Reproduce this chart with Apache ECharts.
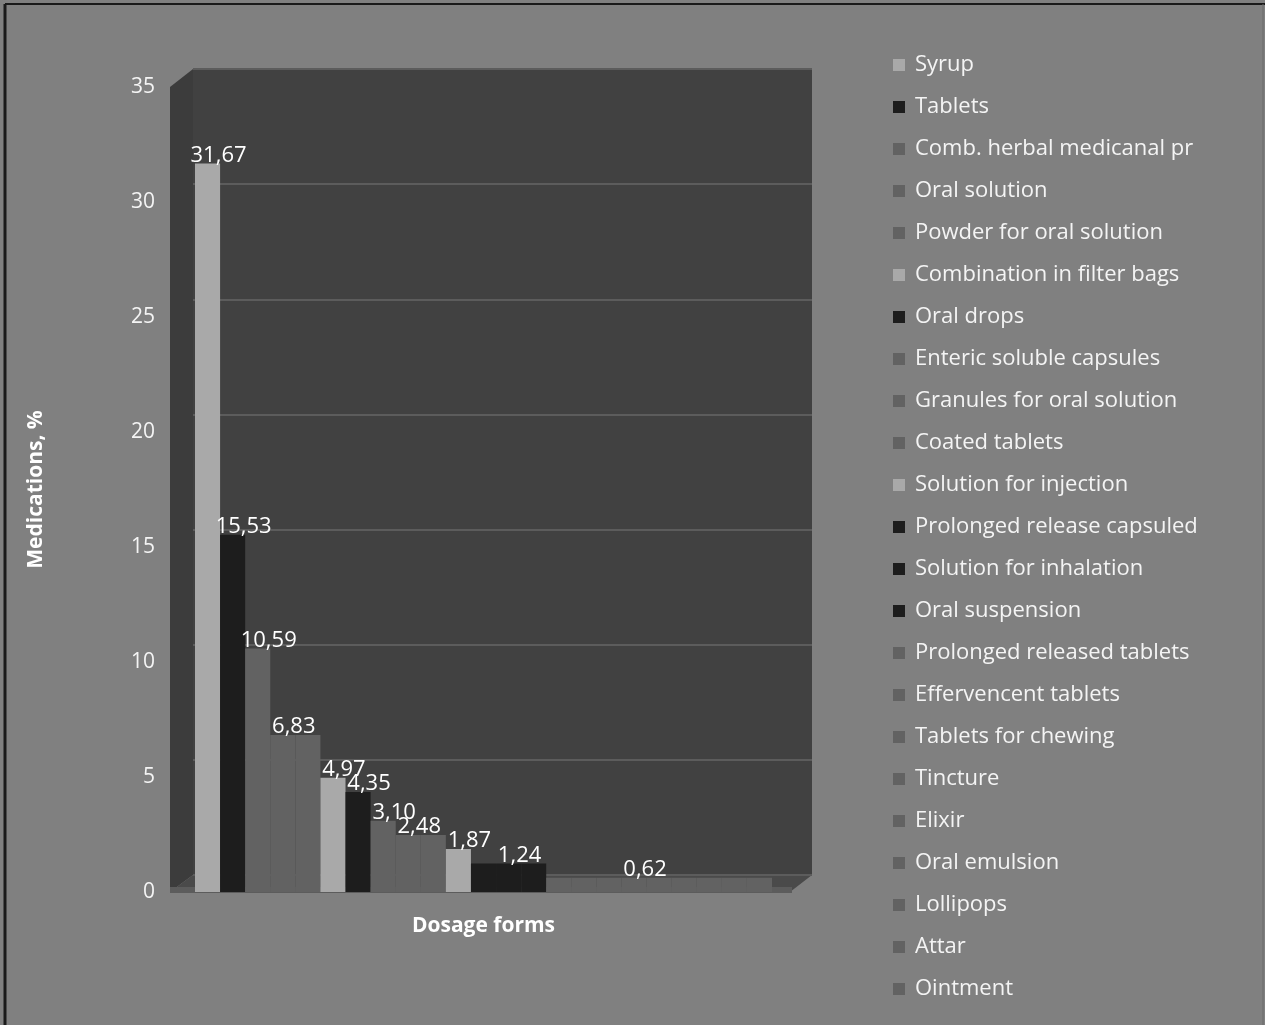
<!DOCTYPE html>
<html>
<head>
<meta charset="utf-8">
<script src="https://cdn.jsdelivr.net/npm/echarts@6/dist/echarts.min.js"></script>
<style>
  html, body { margin: 0; padding: 0; background: #808080; }
  #chart { width: 1265px; height: 1025px; }
</style>
</head>
<body>
<div id="chart"></div>
<script>
// Share of medications by dosage form, %
const categories = ['Dosage forms'];

const seriesNames = [
  'Syrup',
  'Tablets',
  'Comb. herbal medicanal pr',
  'Oral solution',
  'Powder for oral solution',
  'Combination in filter bags',
  'Oral drops',
  'Enteric soluble capsules',
  'Granules for oral solution',
  'Coated tablets',
  'Solution for injection',
  'Prolonged release capsuled',
  'Solution for inhalation',
  'Oral suspension',
  'Prolonged released tablets',
  'Effervencent tablets',
  'Tablets for chewing',
  'Tincture',
  'Elixir',
  'Oral emulsion',
  'Lollipops',
  'Attar',
  'Ointment'
];

const seriesValues = [
  31.67, 15.53, 10.59, 6.83, 6.83, 4.97, 4.35, 3.10, 2.48, 2.48,
  1.87, 1.24, 1.24, 1.24, 0.62, 0.62, 0.62, 0.62, 0.62, 0.62,
  0.62, 0.62, 0.62
];

const yTicks = { min: 0, max: 35, interval: 5 };

// Shade of each series: L = light grey, B = black, G = mid grey
const shadeCodes = 'LBGGGLBGGGLBBBGGGGGGGGG'.split('');
const shades = { L: '#a9a9a9', B: '#1d1d1d', G: '#626262' };

// Series whose value label is printed (one per run of equal values)
const labelled = new Set([0, 1, 2, 3, 5, 6, 7, 8, 10, 12, 17]);

const fmt = v => v.toFixed(2).replace('.', ',');
const FONT = '"Open Sans", "Liberation Sans", sans-serif';

const series = seriesNames.map((name, i) => ({
  name,
  type: 'bar',
  xAxisIndex: 1,
  yAxisIndex: 1,
  barGap: '0%',
  barCategoryGap: '0%',
  data: [seriesValues[i]],
  itemStyle: { color: shades[shadeCodes[i]] },
  label: {
    show: labelled.has(i),
    position: 'top',
    distance: 0,
    offset: [11, 3],
    color: '#ffffff',
    fontFamily: FONT,
    fontSize: 22,
    formatter: p => fmt(p.value)
  },
  silent: true
}));

const chart = echarts.init(document.getElementById('chart'), null, { renderer: 'canvas' });

chart.setOption({
  backgroundColor: '#808080',
  animation: false,
  graphic: [
    // outer frame
    { type: 'line', shape: { x1: 5, y1: 4, x2: 5, y2: 1025 }, style: { stroke: '#1a1a1a', lineWidth: 3 }, z: 100 },
    { type: 'line', shape: { x1: 5, y1: 4, x2: 1265, y2: 4 }, style: { stroke: '#1a1a1a', lineWidth: 2 }, z: 100 },
    { type: 'line', shape: { x1: 1263, y1: 4, x2: 1263, y2: 1025 }, style: { stroke: '#6a6a6a', lineWidth: 1 }, z: 100 },
    // side wall of the 3D box
    { type: 'polygon', shape: { points: [[170, 87], [193, 69], [193, 875], [170, 892]] },
      style: { fill: '#3c3c3c' }, z: -5 },
    // floor of the 3D box
    { type: 'polygon', shape: { points: [[170, 892], [193, 875], [812, 875], [790, 892]] },
      style: { fill: '#4a4a4a' }, z: -5 },
    // floor front edge
    { type: 'rect', shape: { x: 170, y: 887, width: 622, height: 6 },
      style: { fill: '#5c5c5c' }, z: -4 }
  ],
  legend: {
    orient: 'vertical',
    left: 888,
    top: 49,
    itemWidth: 12,
    itemHeight: 12,
    itemGap: 20,
    icon: 'rect',
    selectedMode: false,
    textStyle: {
      color: '#f4f4f4',
      fontFamily: FONT,
      fontSize: 22,
      lineHeight: 22,
      padding: [0, 0, 0, 5]
    },
    data: seriesNames
  },
  grid: [
    // back wall, where the gridlines sit
    { left: 193, top: 69, width: 619, height: 806, show: true, backgroundColor: '#414141', borderWidth: 0 },
    // front plane, where the columns stand
    { left: 195, top: 87, width: 577, height: 805, show: false }
  ],
  xAxis: [
    { type: 'category', gridIndex: 0, data: categories, show: false },
    {
      type: 'category',
      gridIndex: 1,
      data: categories,
      axisLine: { show: false },
      axisTick: { show: false },
      axisLabel: {
        margin: 24,
        color: '#ffffff',
        fontFamily: FONT,
        fontWeight: 'bold',
        fontSize: 21
      }
    }
  ],
  yAxis: [
    {
      type: 'value',
      gridIndex: 0,
      min: yTicks.min, max: yTicks.max, interval: yTicks.interval,
      axisLabel: { show: false },
      axisLine: { show: false },
      axisTick: { show: false },
      splitLine: { lineStyle: { color: '#5c5c5c', width: 2 } }
    },
    {
      type: 'value',
      gridIndex: 1,
      min: yTicks.min, max: yTicks.max, interval: yTicks.interval,
      name: 'Medications, %',
      nameLocation: 'middle',
      nameGap: 148,
      nameRotate: 90,
      nameTextStyle: {
        color: '#ffffff',
        fontFamily: FONT,
        fontWeight: 'bold',
        fontSize: 21
      },
      axisLine: { show: false },
      axisTick: { show: false },
      splitLine: { show: false },
      axisLabel: {
        margin: 40,
        color: '#f4f4f4',
        fontFamily: FONT,
        fontSize: 21
      }
    }
  ],
  series
});
</script>
</body>
</html>
